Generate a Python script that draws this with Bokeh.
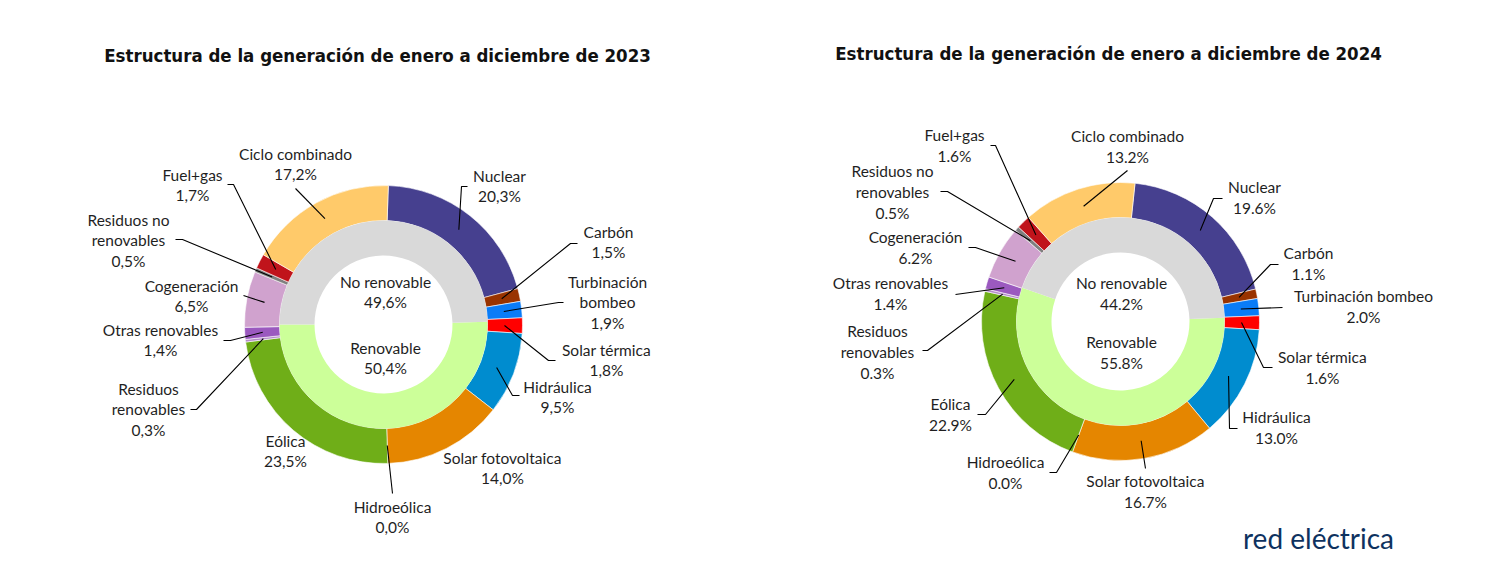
import math
from bokeh.plotting import figure
from bokeh.models import Range1d
from bokeh.core.properties import value
from bokeh.embed import file_html
from bokeh.resources import INLINE

# ---------------- data ----------------
categories = ["Nuclear", "Carbón", "Turbinación bombeo", "Solar térmica", "Hidráulica",
              "Solar fotovoltaica", "Hidroeólica", "Eólica", "Residuos renovables",
              "Otras renovables", "Cogeneración", "Residuos no renovables", "Fuel+gas",
              "Ciclo combinado"]
values_2023 = [20.3, 1.5, 1.9, 1.8, 9.5, 14.0, 0.0, 23.5, 0.3, 1.4, 6.5, 0.5, 1.7, 17.2]
values_2024 = [19.6, 1.1, 2.0, 1.6, 13.0, 16.7, 0.0, 22.9, 0.3, 1.4, 6.2, 0.5, 1.6, 13.2]
groups = ["Renovable", "No renovable"]
groups_2023 = [50.4, 49.6]
groups_2024 = [55.8, 44.2]
titles = ["Estructura de la generación de enero a diciembre de 2023",
          "Estructura de la generación de enero a diciembre de 2024"]

# ---------------- styles ----------------
colors = ["#46408F", "#993300", "#0A7CF7", "#FF0000", "#008CCF", "#E58600", "#9AB85A",
          "#6FAE18", "#B48CC8", "#9B59BF", "#D0A2CE", "#7F7F7F", "#C0141B", "#FFCA6A"]
group_colors = ["#CCFF99", "#D9D9D9"]
TXT = "#1F1F1F"
FONT = "Lato"
DY = -2  # small vertical nudge for label texts

W, H = 1496, 553
p = figure(width=W, height=H, output_backend="svg", toolbar_location=None,
           x_range=Range1d(0, W), y_range=Range1d(0, H),
           x_axis_type=None, y_axis_type=None, min_border=0)
p.grid.visible = False
p.outline_line_color = None
p.background_fill_color = "white"


def Y(py):
    return H - py


charts = [
    dict(cx=383, cy=324, outer_start=2.0, inner_start=88.5, vals=values_2023,
         grp=groups_2023, dec=",", title_xy=(377, 55), lh=20.5,
         names=["Nuclear", "Carbón", "Turbinación\nbombeo", "Solar térmica", "Hidráulica",
                "Solar fotovoltaica", "Hidroeólica", "Eólica", "Residuos\nrenovables",
                "Otras renovables", "Cogeneración", "Residuos no\nrenovables", "Fuel+gas",
                "Ciclo combinado"],
         text_pos=[(499, 177), (608, 233), (607, 283), (606, 351), (557, 388), (502, 459),
                   (392, 508), (285, 442), (148, 390), (160, 331), (191, 287), (128, 221),
                   (192, 176), (295, 155)],
         knees=[[(461, 186), (467, 186)], [(570, 243), (577, 243)], [(558, 302), (563, 302)],
                [(548, 360), (555, 360)], [(512, 395), (519, 395)], None, [(392, 493)], None,
                [(196, 409), (190, 409)], [(230, 340), (223, 340)], [(249, 297), (243, 295)],
                [(182, 239), (175, 239)], [(233, 184), (227, 184)], [(295, 188)]],
         inner_pos=[(385, 349), (385, 283)]),
    dict(cx=1120, cy=321, outer_start=6.0, inner_start=88.0, vals=values_2024,
         grp=groups_2024, dec=".", title_xy=(1108, 53), lh=21,
         names=["Nuclear", "Carbón", "Turbinación bombeo", "Solar térmica", "Hidráulica",
                "Solar fotovoltaica", "Hidroeólica", "Eólica", "Residuos\nrenovables",
                "Otras renovables", "Cogeneración", "Residuos no\nrenovables", "Fuel+gas",
                "Ciclo combinado"],
         text_pos=[(1254, 188), (1308, 254), (1363, 297), (1322, 358), (1276, 418), (1145, 482),
                   (1005, 463), (950, 405), (877, 332), (890, 284), (915, 238), (892, 172),
                   (954, 136), (1127, 137)],
         knees=[[(1213, 198), (1222, 198)], [(1270, 264), (1278, 264)], [(1282, 307)],
                [(1263, 367), (1272, 367)], [(1229, 428), (1237, 428)], [(1145, 468)],
                [(1056, 472), (1049, 472)], [(985, 414), (977, 414)], [(927, 350), (922, 350)],
                [(955, 294)], [(975, 247), (968, 247)], [(947, 191), (940, 191)],
                [(995, 145), (990, 145)], [(1127, 170)]],
         inner_pos=[(1121, 343), (1121, 284)]),
]

R_OUT, R_MID, R_HOLE, R_LEAD = 139, 104, 69, 121

for c in charts:
    cx, cy = c["cx"], Y(c["cy"])
    vals = c["vals"]
    tot = sum(vals)
    cum = 0.0
    starts, ends, mids, cols = [], [], [], []
    for v, col in zip(vals, colors):
        a0 = c["outer_start"] + cum / tot * 360
        cum += v
        a1 = c["outer_start"] + cum / tot * 360
        mids.append((a0 + a1) / 2)
        if v <= 0:
            continue  # a zero-size wedge would be drawn as a full ring
        starts.append(math.radians(90 - a1))
        ends.append(math.radians(90 - a0))
        cols.append(col)
    p.annular_wedge(x=cx, y=cy, inner_radius=R_MID, outer_radius=R_OUT,
                    start_angle=starts, end_angle=ends, fill_color=cols,
                    line_color="white", line_width=0.6)
    gt = sum(c["grp"])
    cum = 0.0
    gs, ge = [], []
    for v in c["grp"]:
        a0 = c["inner_start"] + cum / gt * 360
        cum += v
        a1 = c["inner_start"] + cum / gt * 360
        gs.append(math.radians(90 - a1))
        ge.append(math.radians(90 - a0))
    p.annular_wedge(x=cx, y=cy, inner_radius=R_HOLE, outer_radius=R_MID,
                    start_angle=gs, end_angle=ge, fill_color=group_colors,
                    line_color=None)

    def fmt(v):
        return f"{v:.1f}%".replace(".", c["dec"])

    xs, ys = [], []
    for m, kn in zip(mids, c["knees"]):
        if kn is None:
            continue
        sx = cx + R_LEAD * math.sin(math.radians(m))
        sy = cy + R_LEAD * math.cos(math.radians(m))
        xs.append([sx] + [k[0] for k in kn])
        ys.append([sy] + [Y(k[1]) for k in kn])
    p.multi_line(xs=xs, ys=ys, line_color="#000000", line_width=1.1)

    tx, ty, tt = [], [], []
    for name, v, (lx, ly) in zip(c["names"], vals, c["text_pos"]):
        lines = name.split("\n") + [fmt(v)]
        for i, ln in enumerate(lines):
            tx.append(lx)
            ty.append(Y(ly + DY + i * c["lh"]))
            tt.append(ln)
    for g, v, (lx, ly) in zip(groups, c["grp"], c["inner_pos"]):
        for i, ln in enumerate([g, fmt(v)]):
            tx.append(lx)
            ty.append(Y(ly + DY + i * c["lh"]))
            tt.append(ln)
    p.text(x=tx, y=ty, text=tt, text_font=value(FONT), text_font_size="15.5px",
           text_color=TXT, text_align="center", text_baseline="middle")

for c, t in zip(charts, titles):
    p.text(x=[c["title_xy"][0]], y=[Y(c["title_xy"][1])], text=[t],
           text_font=value("DejaVu Sans Condensed"), text_font_style="bold",
           text_font_size="18.5px", text_color="#111111", text_align="center",
           text_baseline="middle")

p.text(x=[1318], y=[Y(537)], text=["red eléctrica"], text_font=value("Lato"),
       text_font_size="28px", text_color="#0E3260",
       text_align="center", text_baseline="middle")

open("out.html", "w").write(file_html(p, INLINE))
